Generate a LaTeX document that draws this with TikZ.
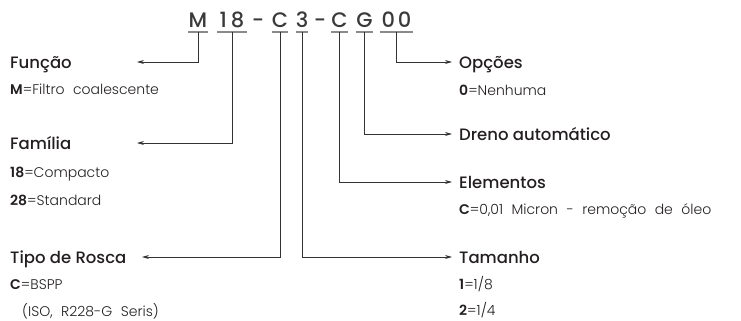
\documentclass[tikz,border=0pt]{standalone}
\usepackage{fontspec}
\setmainfont{Poppins}[BoldFont={Poppins Medium}]
\newfontfamily\valfont{Poppins Light}[WordSpace=2.2]
\usetikzlibrary{arrows.meta}

\definecolor{ink}{HTML}{231F20}
\definecolor{codegray}{HTML}{3A3A3A}
\definecolor{ulgray}{HTML}{8A8A8A}
\definecolor{linegray}{HTML}{333333}

\tikzset{
  code/.style={inner sep=0pt,anchor=base,font=\fontsize{21}{21}\selectfont\bfseries,text=codegray},
  head/.style={inner sep=0pt,anchor=base west,font=\fontsize{16.5}{16.5}\selectfont\bfseries,text=ink},
  val/.style={inner sep=0pt,anchor=base west,font=\fontsize{14}{14}\selectfont\valfont,text=ink},
  uline/.style={draw=ulgray,line width=1.3pt},
  conn/.style={draw=linegray,line width=0.8pt,-{Stealth[length=7pt,width=4pt]}},
}

\begin{document}
\begin{tikzpicture}[x=1pt,y=-1pt]
\useasboundingbox (0,0) rectangle (741,321);

% model code
\node[code,minimum width=19pt] (gM) at (198,28) {M};
\node[code,minimum width=30pt] (g18) at (232,28) {1\hspace{4pt}8};
\node[code] (d1) at (258,28) {-};
\node[code,minimum width=15pt] (gC) at (280,28) {C};
\node[code,minimum width=10pt] (g3) at (302,28) {3};
\node[code] (d2) at (320,28) {-};
\node[code,minimum width=15pt] (gCC) at (339.5,28) {C};
\node[code,minimum width=15pt] (gG) at (364.5,28) {G};
\node[code,minimum width=33pt] (g00) at (396.5,28) {0\hspace{3pt}0};
\foreach \g in {gM,g18,gC,g3,gCC,gG,g00}
  \draw[uline] ([yshift=-4pt]\g.base west) -- ([yshift=-4pt]\g.base east);

% left side
\node[head] (funcao) at (10,68) {Função};
\node[val] (funcaoM) at (10,94.5) {{\bfseries M}=Filtro coalescente};
\node[head] (familia) at (10,149) {Família};
\node[val] (fam18) at (10,177.5) {{\bfseries 18}=Compacto};
\node[val] (fam28) at (10,205.5) {{\bfseries 28}=Standard};
\node[head] (rosca) at (10,263) {Tipo de Rosca};
\node[val] (roscaC) at (10,289.5) {{\bfseries C}=BSPP};
\node[val] (roscaISO) at (22,316) {(ISO, R228-G Seris)};

% right side
\node[head] (opcoes) at (459,68) {Opções};
\node[val] (opc0) at (459,95.5) {{\bfseries 0}=Nenhuma};
\node[head] (dreno) at (459,140) {Dreno automático};
\node[head] (elem) at (459,188) {Elementos};
\node[val] (elemC) at (459,214.5) {{\bfseries C}=0,01 Micron - remoção de óleo};
\node[head] (tam) at (459,263) {Tamanho};
\node[val] (tam1) at (459,289.5) {{\bfseries 1}=1/8};
\node[val] (tam2) at (459,315.5) {{\bfseries 2}=1/4};

% arrow ends
\coordinate (tFuncao) at (137,62);
\coordinate (tFamilia) at (137,143);
\coordinate (tRosca) at (142,257);
\coordinate (tOpcoes) at (452,62);
\coordinate (tDreno) at (452,134);
\coordinate (tElem) at (452,182);
\coordinate (tTam) at (452,257);

\draw[conn] ([yshift=-4pt]gM.base) |- (tFuncao);
\draw[conn] ([yshift=-4pt]g18.base) |- (tFamilia);
\draw[conn] ([yshift=-4pt]gC.base) |- (tRosca);
\draw[conn] ([yshift=-4pt]g3.base) |- (tTam);
\draw[conn] ([yshift=-4pt]gCC.base) |- (tElem);
\draw[conn] ([yshift=-4pt]gG.base) |- (tDreno);
\draw[conn] ([yshift=-4pt]g00.base) |- (tOpcoes);

\end{tikzpicture}
\end{document}
